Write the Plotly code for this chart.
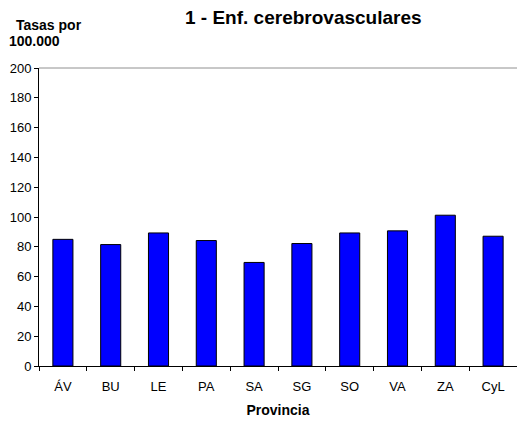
import plotly.graph_objects as go

provincias = ["ÁV", "BU", "LE", "PA", "SA", "SG", "SO", "VA", "ZA", "CyL"]
tasas = [85.0, 81.5, 89.3, 84.2, 69.5, 82.2, 89.3, 90.7, 101.2, 87.1]
y_ticks = [0, 20, 40, 60, 80, 100, 120, 140, 160, 180, 200]

W, H = 517, 421
L, R, T, B = 39, 0, 68, 55
pw, ph = W - L - R, H - T - B
def px(x): return (x - L) / pw
def py(y): return (H - B - y) / ph

fig = go.Figure()
fig.add_trace(go.Bar(
    x=provincias, y=tasas,
    marker=dict(color="#0000FF", line=dict(color="#000000", width=1)),
    width=0.42,
))

fig.update_layout(
    width=W, height=H,
    margin=dict(l=L, r=R, t=T, b=B, pad=0, autoexpand=False),
    paper_bgcolor="white", plot_bgcolor="white",
    showlegend=False,
    font=dict(family="Arial, Liberation Sans, sans-serif", color="black", size=13),
    xaxis=dict(
        automargin=False,
        showline=True, linecolor="black", linewidth=1,
        ticks="outside", tickson="boundaries", ticklen=4, tickcolor="black",
        ticklabelstandoff=8,
        title=dict(text="<b>Provincia</b>", font=dict(size=14), standoff=12),
        tickfont=dict(size=13),
    ),
    yaxis=dict(
        automargin=False,
        range=[0, 200], tickvals=y_ticks,
        showline=True, linecolor="black", linewidth=1,
        ticks="outside", ticklen=4, tickcolor="black",
        showgrid=False, zeroline=False,
        tickfont=dict(size=13),
    ),
    shapes=[dict(type="line", xref="paper", yref="paper", x0=0, x1=1, y0=1, y1=1,
                 line=dict(color="#909090", width=1))],
)
fig.add_annotation(text="<b>1 - Enf. cerebrovasculares</b>", x=px(303), y=py(18),
                   xref="paper", yref="paper", xanchor="center", yanchor="middle",
                   showarrow=False, font=dict(size=19))
fig.add_annotation(text="<b>Tasas por</b>", x=px(14), y=py(25), xref="paper", yref="paper",
                   xanchor="left", yanchor="middle", showarrow=False, font=dict(size=14))
fig.add_annotation(text="<b>100.000</b>", x=px(7), y=py(41), xref="paper", yref="paper",
                   xanchor="left", yanchor="middle", showarrow=False, font=dict(size=14))

fig.write_html("out.html", config={"displayModeBar": False},
               post_script="document.body.style.margin='0';document.body.style.overflow='hidden';")
